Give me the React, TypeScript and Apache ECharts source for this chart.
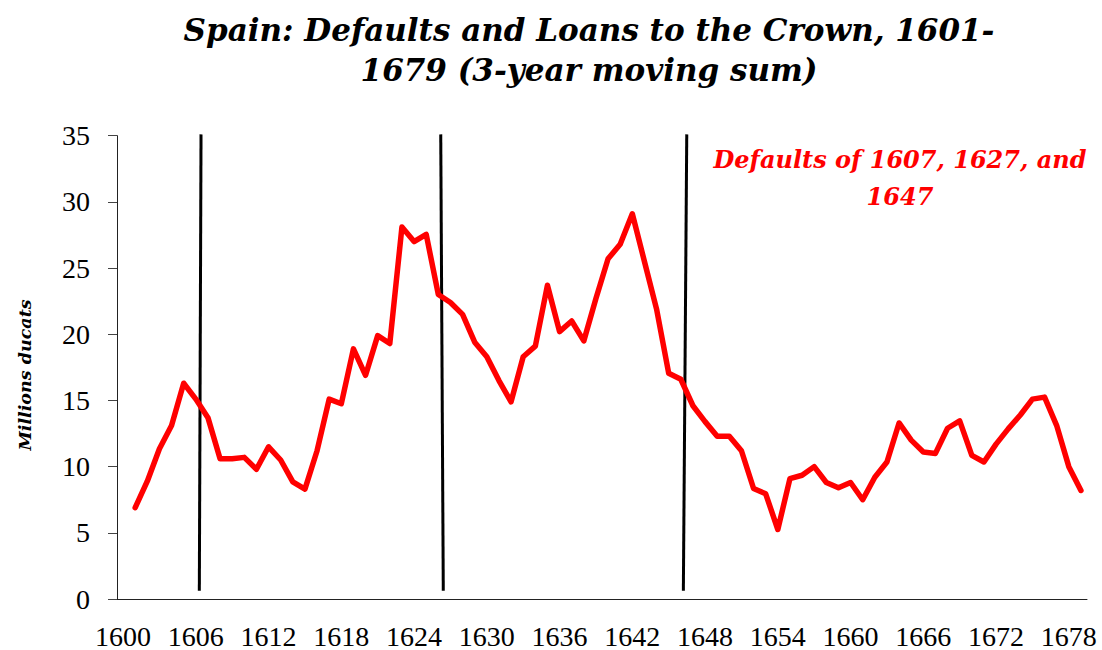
import React, { useEffect, useRef } from "react";
import * as echarts from "echarts";

const TITLE = "Spain: Defaults and Loans to the Crown, 1601-\n1679 (3-year moving sum)";
const Y_NAME = "Millions ducats";
const NOTE = "Defaults of 1607, 1627, and\n1647";

const FIRST_YEAR = 1600;
const LAST_YEAR = 1679;
const years: string[] = [];
for (let y = FIRST_YEAR; y <= LAST_YEAR; y++) years.push(String(y));

// 3-year moving sum, 1601..1679 (1600 has no value)
const loans: (number | null)[] = [
  null,
  6.9, 8.9, 11.35, 13.1, 16.3, 15.1, 13.7, 10.6, 10.6, 10.7,
  9.8, 11.5, 10.5, 8.85, 8.3, 11.2, 15.1, 14.75, 18.9, 16.9,
  19.9, 19.3, 28.1, 27.0, 27.55, 23.0, 22.4, 21.5, 19.4, 18.3,
  16.5, 14.9, 18.3, 19.1, 23.7, 20.2, 21.0, 19.5, 22.7, 25.7,
  26.8, 29.1, 25.5, 21.9, 17.05, 16.6, 14.6, 13.4, 12.3, 12.3,
  11.2, 8.35, 7.95, 5.25, 9.1, 9.35, 10.0, 8.8, 8.4, 8.8,
  7.5, 9.2, 10.35, 13.3, 12.0, 11.1, 11.0, 12.9, 13.45, 10.85,
  10.35, 11.7, 12.85, 13.9, 15.1, 15.25, 13.1, 10.0, 8.2,
];

// Default marker lines: [top x, top y] and [bottom x, bottom y] on a continuous year scale
const defaultLines: [number, number][][] = [
  [[1606.93, 35.1], [1606.79, 0.63]],
  [[1626.7, 35.1], [1626.91, 0.63]],
  [[1646.99, 35.1], [1646.71, 0.63]],
];

const SERIF = "Liberation Serif";
const SCRIPT = "DejaVu Serif";

export default function App() {
  const ref = useRef<HTMLDivElement>(null);
  useEffect(() => {
    if (!ref.current) return;
    const chart = echarts.init(ref.current, undefined, { renderer: "svg" });
    chart.setOption({
      animation: false,
      backgroundColor: "#ffffff",
      title: [
        {
          text: TITLE,
          left: 584,
          top: 5,
          textAlign: "center",
          textStyle: {
            fontFamily: SCRIPT,
            fontStyle: "italic",
            fontWeight: "bold",
            fontSize: 31,
            lineHeight: 40,
            color: "#000",
          },
        },
        {
          text: NOTE,
          left: 895,
          top: 136,
          textAlign: "center",
          textStyle: {
            fontFamily: SCRIPT,
            fontStyle: "italic",
            fontWeight: "bold",
            fontSize: 24,
            lineHeight: 37,
            color: "#ff0000",
          },
        },
      ],
      graphic: [
        {
          type: "text",
          x: 25,
          y: 375,
          rotation: Math.PI / 2,
          style: {
            text: Y_NAME,
            align: "center",
            verticalAlign: "middle",
            fontFamily: SCRIPT,
            fontStyle: "italic",
            fontWeight: "bold",
            fontSize: 17.5,
            fill: "#000",
          },
        },
      ],
      grid: { left: 117, right: 15, top: 135.7, bottom: 51, containLabel: false },
      xAxis: [
        {
          type: "category",
          data: years,
          boundaryGap: true,
          axisLine: { lineStyle: { color: "#222", width: 1 } },
          axisTick: { interval: 4, length: 8, lineStyle: { color: "#444" } },
          axisLabel: {
            interval: 5,
            margin: 23,
            fontFamily: SERIF,
            fontSize: 28,
            color: "#000",
          },
          splitLine: { show: false },
        },
        {
          type: "value",
          min: FIRST_YEAR,
          max: LAST_YEAR + 1,
          show: false,
        },
      ],
      yAxis: {
        type: "value",
        min: 0,
        max: 35,
        interval: 5,
        axisLine: { show: true, lineStyle: { color: "#222", width: 1 } },
        axisTick: { show: true, length: 9, lineStyle: { color: "#444" } },
        axisLabel: {
          margin: 27,
          fontFamily: SERIF,
          fontSize: 28,
          color: "#000",
        },
        splitLine: { show: false },
      },
      series: [
        ...defaultLines.map((d) => ({
          type: "line",
          xAxisIndex: 1,
          data: d,
          symbol: "none",
          clip: false,
          lineStyle: { color: "#000", width: 3 },
          silent: true,
          z: 1,
        })),
        {
          type: "line",
          xAxisIndex: 0,
          data: loans,
          symbol: "none",
          connectNulls: false,
          lineStyle: { color: "#ff0000", width: 5.5, join: "round", cap: "round" },
          z: 3,
        },
      ],
    });
    return () => chart.dispose();
  }, []);
  return (
    <div
      ref={ref}
      style={{ position: "fixed", left: 0, top: 0, width: 1102, height: 650 }}
    />
  );
}
